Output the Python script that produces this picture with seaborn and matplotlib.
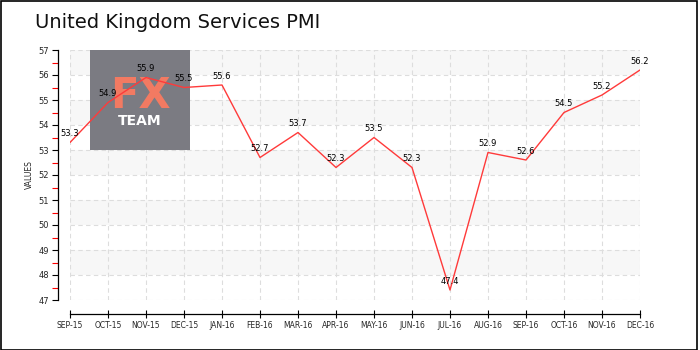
import matplotlib
matplotlib.use("Agg")
import matplotlib.pyplot as plt
import seaborn as sns
import pandas as pd
import numpy as np
from matplotlib.patches import Rectangle
from matplotlib.ticker import MultipleLocator

months = ["SEP-15", "OCT-15", "NOV-15", "DEC-15", "JAN-16", "FEB-16", "MAR-16", "APR-16",
          "MAY-16", "JUN-16", "JUL-16", "AUG-16", "SEP-16", "OCT-16", "NOV-16", "DEC-16"]
values = [53.3, 54.9, 55.9, 55.5, 55.6, 52.7, 53.7, 52.3, 53.5, 52.3, 47.4, 52.9, 52.6, 54.5, 55.2, 56.2]

sns.set_theme(style="white")
plt.rcParams['font.family'] = ['DejaVu Sans']

df = pd.DataFrame({"idx": np.arange(len(months)), "value": values})

fig = plt.figure(figsize=(7, 3.5), dpi=100)
ax = fig.add_axes([70/700, 1-300/350, 570/700, 250/350])

# alternating bands
for lo in [48, 50, 52, 54, 56]:
    ax.axhspan(lo, lo+1, color="#f7f7f7", zorder=0, lw=0)

sns.lineplot(data=df, x="idx", y="value", ax=ax, color="#ff3a3a", linewidth=1.0, zorder=5)

for i, v in enumerate(values):
    ax.annotate(f"{v}", (i, v), xytext=(0, 3), textcoords="offset points",
                ha="center", va="bottom", fontsize=6, color="black", zorder=6)

ax.set_xlim(0, len(months)-1)
ax.set_ylim(47, 57)
ax.set_xticks(range(len(months)))
ax.set_xticklabels(months)
ax.yaxis.set_minor_locator(MultipleLocator(0.5))
ax.set_yticks(range(47, 58))
ax.set_yticklabels([str(t) for t in range(47, 58)])
ax.tick_params(axis="y", which="both", left=True)
ax.tick_params(axis="x", which="major", bottom=True)
ax.tick_params(axis="y", which="major", labelsize=6, length=4, width=0.8, color="black", direction="out", pad=2)
ax.tick_params(axis="y", which="minor", length=4, width=0.8, color="red", direction="out")
ax.tick_params(axis="x", which="major", labelsize=5.5, length=6, width=0.8, color="black", direction="inout", pad=2)

ax.grid(True, which="major", color="#dddddd", linestyle=(0, (4, 3)), linewidth=0.8, zorder=1)
ax.set_axisbelow(True)

for s in ["top", "right"]:
    ax.spines[s].set_visible(False)
ax.spines["left"].set_position(("outward", 9))
ax.spines["bottom"].set_position(("outward", 10))
ax.spines["left"].set_color("black")
ax.spines["bottom"].set_color("black")
ax.spines["left"].set_linewidth(0.9)
ax.spines["bottom"].set_linewidth(0.9)

ax.set_xlabel("")
ax.set_ylabel("VALUES", fontsize=5.5, labelpad=3)

# logo
logo = Rectangle((90/700, 1-150/350), 100/700, 100/350, transform=fig.transFigure,
                 facecolor="#7b7b82", edgecolor="none", zorder=2)
ax.add_patch(logo)
logo.set_clip_on(False)
ax.text(140/700, 1-96/350, "FX", transform=fig.transFigure, ha="center", va="center",
        fontsize=30, fontweight="bold", color="#f27a62", zorder=3)
ax.text(140/700, 1-121/350, "TEAM", transform=fig.transFigure, ha="center", va="center",
        fontsize=10, fontweight="bold", color="white", zorder=3)

fig.text(35/700, 1-22/350, "United Kingdom Services PMI", fontsize=14, ha="left", va="center", color="#111111")

border = Rectangle((0.5/700, 0.5/350), 696/700, 348.5/350, transform=fig.transFigure,
                   facecolor="none", edgecolor="black", linewidth=1.2)
fig.patches.append(border)

fig.savefig("out.png", dpi=100)
